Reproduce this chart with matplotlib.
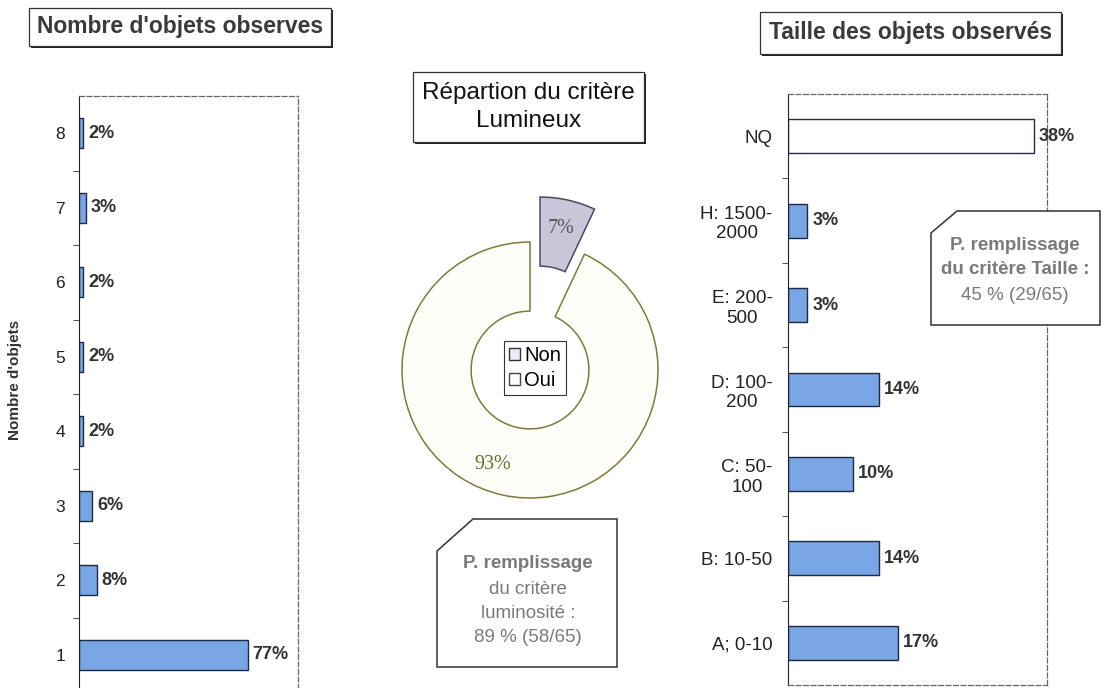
import matplotlib.pyplot as plt
from matplotlib.patches import Polygon, Rectangle, Patch

plt.rcParams['font.family'] = ['Liberation Sans', 'DejaVu Sans']

# nombre d'objets observés (%)
nb_objets = ['1', '2', '3', '4', '5', '6', '7', '8']
nb_pct = [77, 8, 6, 2, 2, 2, 3, 2]

# taille des objets observés (%)
tailles = ['A; 0-10', 'B: 10-50', 'C: 50-\n100', 'D: 100-\n200',
           'E: 200-\n500', 'H: 1500-\n2000', 'NQ']
tailles_pct = [17, 14, 10, 14, 3, 3, 38]

# critère lumineux (%)
lum_labels = ['Non', 'Oui']
lum_pct = [7, 93]

note_lum = ['P. remplissage', 'du critère', 'luminosité :', '89 % (58/65)']
note_taille = ['P. remplissage', 'du critère Taille :', '45 % (29/65)']

W, H = 1105, 688
BLUE = '#78a5e4'
EDGE = '#1f2a48'

fig = plt.figure(figsize=(W / 100, H / 100), dpi=100)


def px_axes(x0, y0, x1, y1):
    return fig.add_axes([x0 / W, 1 - y1 / H, (x1 - x0) / W, (y1 - y0) / H])


def style_bar_axes(ax, n, size, pad):
    ax.set_ylim(-0.5, n - 0.5)
    ax.set_xticks([])
    ax.set_yticks(range(n))
    ax.set_yticks([i + 0.5 for i in range(n - 1)], minor=True)
    ax.tick_params(axis='y', which='major', length=0, pad=pad, labelsize=size, labelcolor='#222')
    ax.tick_params(axis='y', which='minor', length=4, direction='out', color='#333')
    ax.spines['left'].set_color('#222')
    for s in ['top', 'right', 'bottom']:
        ax.spines[s].set_linestyle((0, (4, 2)))
        ax.spines[s].set_color('#666')
        ax.spines[s].set_linewidth(0.9)


def value_labels(ax, vals):
    for i, v in enumerate(vals):
        ax.annotate(f'{v}%', (v, i), xytext=(3.5, 0), textcoords='offset points',
                    va='center', fontsize=13, fontweight='bold', color='#333')


# --- Nombre d'objets observés ---
ax1 = px_axes(79, 96, 298, 692)
ax1.barh(range(len(nb_objets)), nb_pct, height=0.4, color=BLUE, edgecolor=EDGE, linewidth=1)
ax1.set_xlim(0, 100)
style_bar_axes(ax1, len(nb_objets), 12.5, 10)
ax1.set_yticklabels(nb_objets)
value_labels(ax1, nb_pct)

# --- Taille des objets observés ---
ax3 = px_axes(788, 94, 1047, 685)
colors = [BLUE] * (len(tailles) - 1) + ['white']
ax3.barh(range(len(tailles)), tailles_pct, height=0.4, color=colors, edgecolor=EDGE, linewidth=1)
ax3.set_xlim(0, 40)
style_bar_axes(ax3, len(tailles), 13.5, 11)
ax3.set_yticklabels(tailles, multialignment='center', linespacing=1.2)
value_labels(ax3, tailles_pct)

# --- Répartition du critère lumineux (anneau) ---
r_px = 128
cx, cy = 530, 370
half = 1.35 * r_px
axp = px_axes(cx - half, cy - half, cx + half, cy + half)
wedges, _, autotexts = axp.pie(
    lum_pct, explode=[0.36, 0], startangle=90, counterclock=False, radius=1,
    colors=['#c9c6d9', '#fefef9'], autopct=lambda p: f'{p:.0f}%', pctdistance=0.77,
    wedgeprops=dict(width=0.54, linewidth=1.1),
    textprops=dict(family='Liberation Serif', fontsize=14.5))
wedges[0].set_edgecolor('#4a4a66')
wedges[1].set_edgecolor('#7c7c3c')
autotexts[0].set_color('#555')
autotexts[1].set_color('#6c6c32')
autotexts[1].set_position((-0.29, -0.74))
axp.set_xlim(-1.35, 1.35)
axp.set_ylim(-1.35, 1.35)
axp.set_aspect('equal')
handles = [Patch(facecolor='#eceaf4', edgecolor='#333'), Patch(facecolor='white', edgecolor='#444')]
leg = axp.legend(handles, lum_labels, loc='center', bbox_to_anchor=(0.514, 0.506),
                 fontsize=14.5, handlelength=0.55, handleheight=0.55, handletextpad=0.2,
                 borderpad=0.25, labelspacing=0.3, borderaxespad=0, fancybox=False, framealpha=1)
leg.get_frame().set_edgecolor('#333')
leg.get_frame().set_linewidth(0.8)

# --- overlay for titles and notes, in pixel coordinates ---
ov = fig.add_axes([0, 0, 1, 1], zorder=10)
ov.set_xlim(0, W)
ov.set_ylim(H, 0)
ov.axis('off')
ov.patch.set_visible(False)


def title_box(x0, y0, x1, y1, lines, size, weight, color, spacing=1.1):
    ov.add_patch(Rectangle((x0 + 2, y0 + 2), x1 - x0, y1 - y0, facecolor='#222', edgecolor='none'))
    ov.add_patch(Rectangle((x0, y0), x1 - x0, y1 - y0, facecolor='white', edgecolor='#333', linewidth=0.9))
    ov.text((x0 + x1) / 2, (y0 + y1) / 2, '\n'.join(lines), ha='center', va='center',
            fontsize=size, fontweight=weight, color=color, linespacing=spacing)


def note_box(x0, y0, x1, y1, cut, lines, ys, cx_text, bold_lines):
    pts = [(x0 + cut[0], y0), (x1, y0), (x1, y1), (x0, y1), (x0, y0 + cut[1])]
    ov.add_patch(Polygon(pts, closed=True, facecolor='white', edgecolor='#333', linewidth=1.1))
    for k, (txt, y) in enumerate(zip(lines, ys)):
        ov.text(cx_text, y, txt, ha='center', va='center', fontsize=13.5,
                fontweight='bold' if k in bold_lines else 'normal', color='#7a7a7a')


title_box(29, 8, 331, 46, ["Nombre d'objets observes"], 16.5, 'bold', '#3a3a3a')
title_box(413, 72, 644, 142, ['Répartion du critère', 'Lumineux'], 17.5, 'normal', '#111', 1.3)
title_box(760, 12, 1061, 54, ['Taille des objets observés'], 16.5, 'bold', '#3a3a3a')

ov.text(15, 380, "Nombre d'objets", rotation=90, ha='center', va='center',
        fontsize=11, fontweight='bold', color='#333')

note_box(437, 519, 617, 667, (36, 32), note_lum, [563, 589, 613, 637], 528, [0])
note_box(931, 211, 1100, 325, (26, 22), note_taille, [245, 270, 296], 1015, [0, 1])

fig.savefig('out.png', dpi=100)
